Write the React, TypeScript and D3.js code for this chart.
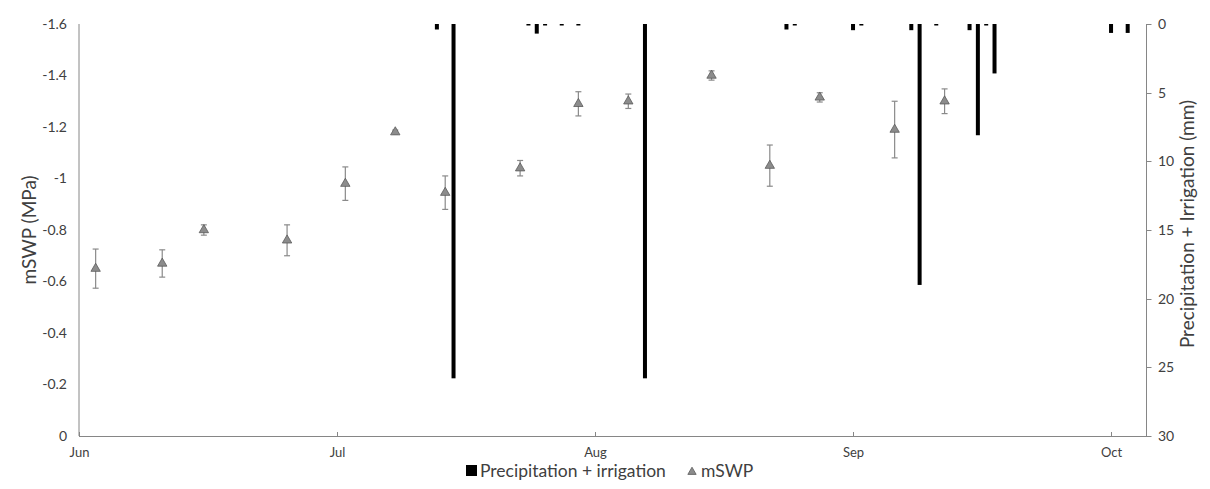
import React from "react";
import * as d3 from "d3";

// ---------- data ----------
const swpDates = ["2018-06-03","2018-06-11","2018-06-16","2018-06-26","2018-07-03","2018-07-09","2018-07-15","2018-07-24","2018-07-31","2018-08-06","2018-08-16","2018-08-23","2018-08-29","2018-09-07","2018-09-13"];
const swpValues = [-0.65,-0.67,-0.80,-0.76,-0.98,-1.18,-0.945,-1.04,-1.29,-1.30,-1.40,-1.05,-1.315,-1.19,-1.30];
const swpErrors = [0.076,0.053,0.02,0.06,0.065,0.008,0.065,0.03,0.047,0.028,0.018,0.08,0.018,0.11,0.048];

const rainDates = ["2018-07-14","2018-07-16","2018-07-25","2018-07-26","2018-07-27","2018-07-29","2018-07-31","2018-08-08","2018-08-25","2018-08-26","2018-09-02","2018-09-03","2018-09-09","2018-09-10","2018-09-12","2018-09-16","2018-09-17","2018-09-18","2018-09-19","2018-10-03","2018-10-05"];
const rainValues = [0.4,25.8,0.1,0.7,0.1,0.1,0.1,25.8,0.4,0.1,0.45,0.1,0.45,19.0,0.1,0.45,8.1,0.1,3.6,0.65,0.65];

const xTickDates = ["2018-06-01","2018-07-02","2018-08-02","2018-09-02","2018-10-03"];
const leftTicks = [0,-0.2,-0.4,-0.6,-0.8,-1,-1.2,-1.4,-1.6];
const rightTicks = [0,5,10,15,20,25,30];

const FONT = "Lato, 'Open Sans', sans-serif";

export default function App() {
  const W = 1210, H = 489;
  const L = 79, R = 1146, T = 24, B = 436;
  const parse = (s: string) => new Date(s + "T00:00:00Z");
  const start = parse("2018-06-01");
  const end = new Date(start.getTime() + 128.2 * 86400000);
  const x = d3.scaleUtc().domain([start, end]).range([L, R]);
  const yL = d3.scaleLinear().domain([0, -1.6]).range([B, T]);
  const yR = d3.scaleLinear().domain([0, 30]).range([T, B]);
  const fmt = d3.utcFormat("%b");
  const tri = d3.symbol().type(d3.symbolTriangle).size(38)() as string;
  const triLegend = d3.symbol().type(d3.symbolTriangle).size(30)() as string;
  const barW = 4;

  return (
    <svg width={W} height={H} style={{ display: "block", position: "absolute", left: 0, top: 0 }} fontFamily={FONT}>
      <rect x={0} y={0} width={W} height={H} fill="#fff" />
      {/* axes lines */}
      <line x1={L} x2={L} y1={T} y2={B} stroke="#868686" strokeWidth={1} />
      <line x1={L} x2={R} y1={B + 0.5} y2={B + 0.5} stroke="#868686" strokeWidth={1} />
      <line x1={R + 0.5} x2={R + 0.5} y1={T} y2={B + 1} stroke="#868686" strokeWidth={1} />
      {/* left tick labels */}
      {leftTicks.map((t) => (
        <text key={"l" + t} x={67} y={yL(t)} dy="0.35em" textAnchor="end" fontSize={14} fill="#404040">
          {t === 0 ? "0" : String(t)}
        </text>
      ))}
      {/* right ticks */}
      {rightTicks.map((t) => (
        <g key={"r" + t}>
          <line x1={R + 0.5} x2={R + 5.5} y1={Math.round(yR(t)) + 0.5} y2={Math.round(yR(t)) + 0.5} stroke="#868686" />
          <text x={1158} y={yR(t)} dy="0.35em" textAnchor="start" fontSize={14} fill="#404040">{t}</text>
        </g>
      ))}
      {/* x ticks */}
      {xTickDates.map((d) => {
        const px = Math.round(x(parse(d))) + 0.5;
        return (
          <g key={d}>
            <line x1={px} x2={px} y1={B - 4} y2={B} stroke="#868686" />
            <text x={px} y={452} dy="0.35em" textAnchor="middle" fontSize={13} fill="#404040">{fmt(parse(d))}</text>
          </g>
        );
      })}
      {/* bars */}
      {rainDates.map((d, i) => {
        const cx = x(parse(d));
        const h = Math.max(yR(rainValues[i]) - T, 1.5);
        return <rect key={"b" + i} x={cx - barW / 2} y={T} width={barW} height={h} fill="#000" />;
      })}
      {/* error bars + markers */}
      {swpDates.map((d, i) => {
        const cx = x(parse(d));
        const v = swpValues[i], e = swpErrors[i];
        const y1 = yL(v - e), y2 = yL(v + e);
        return (
          <g key={"p" + i}>
            <line x1={cx} x2={cx} y1={y1} y2={y2} stroke="#8a8a8a" strokeWidth={1.2} />
            <line x1={cx - 3} x2={cx + 3} y1={y1} y2={y1} stroke="#8a8a8a" strokeWidth={1.2} />
            <line x1={cx - 3} x2={cx + 3} y1={y2} y2={y2} stroke="#8a8a8a" strokeWidth={1.2} />
            <path d={tri} transform={`translate(${cx},${yL(v)})`} fill="#8c8c8c" stroke="#5a5a5a" strokeWidth={0.8} />
          </g>
        );
      })}
      {/* axis titles */}
      <text transform={`translate(36,${(T + B) / 2}) rotate(-90)`} textAnchor="middle" fontSize={19} fill="#404040">mSWP (MPa)</text>
      <text transform={`translate(1194,${(T + B) / 2 - 6}) rotate(-90)`} textAnchor="middle" fontSize={19} fill="#404040">Precipitation + Irrigation (mm)</text>
      {/* legend */}
      <rect x={466} y={465} width={11} height={11} fill="#000" />
      <text x={480} y={471} dy="0.35em" fontSize={17.5} fill="#404040">Precipitation + irrigation</text>
      <path d={triLegend} transform="translate(692,472)" fill="#8c8c8c" stroke="#5a5a5a" strokeWidth={0.8} />
      <text x={701} y={471} dy="0.35em" fontSize={17.5} fill="#404040">mSWP</text>
    </svg>
  );
}
